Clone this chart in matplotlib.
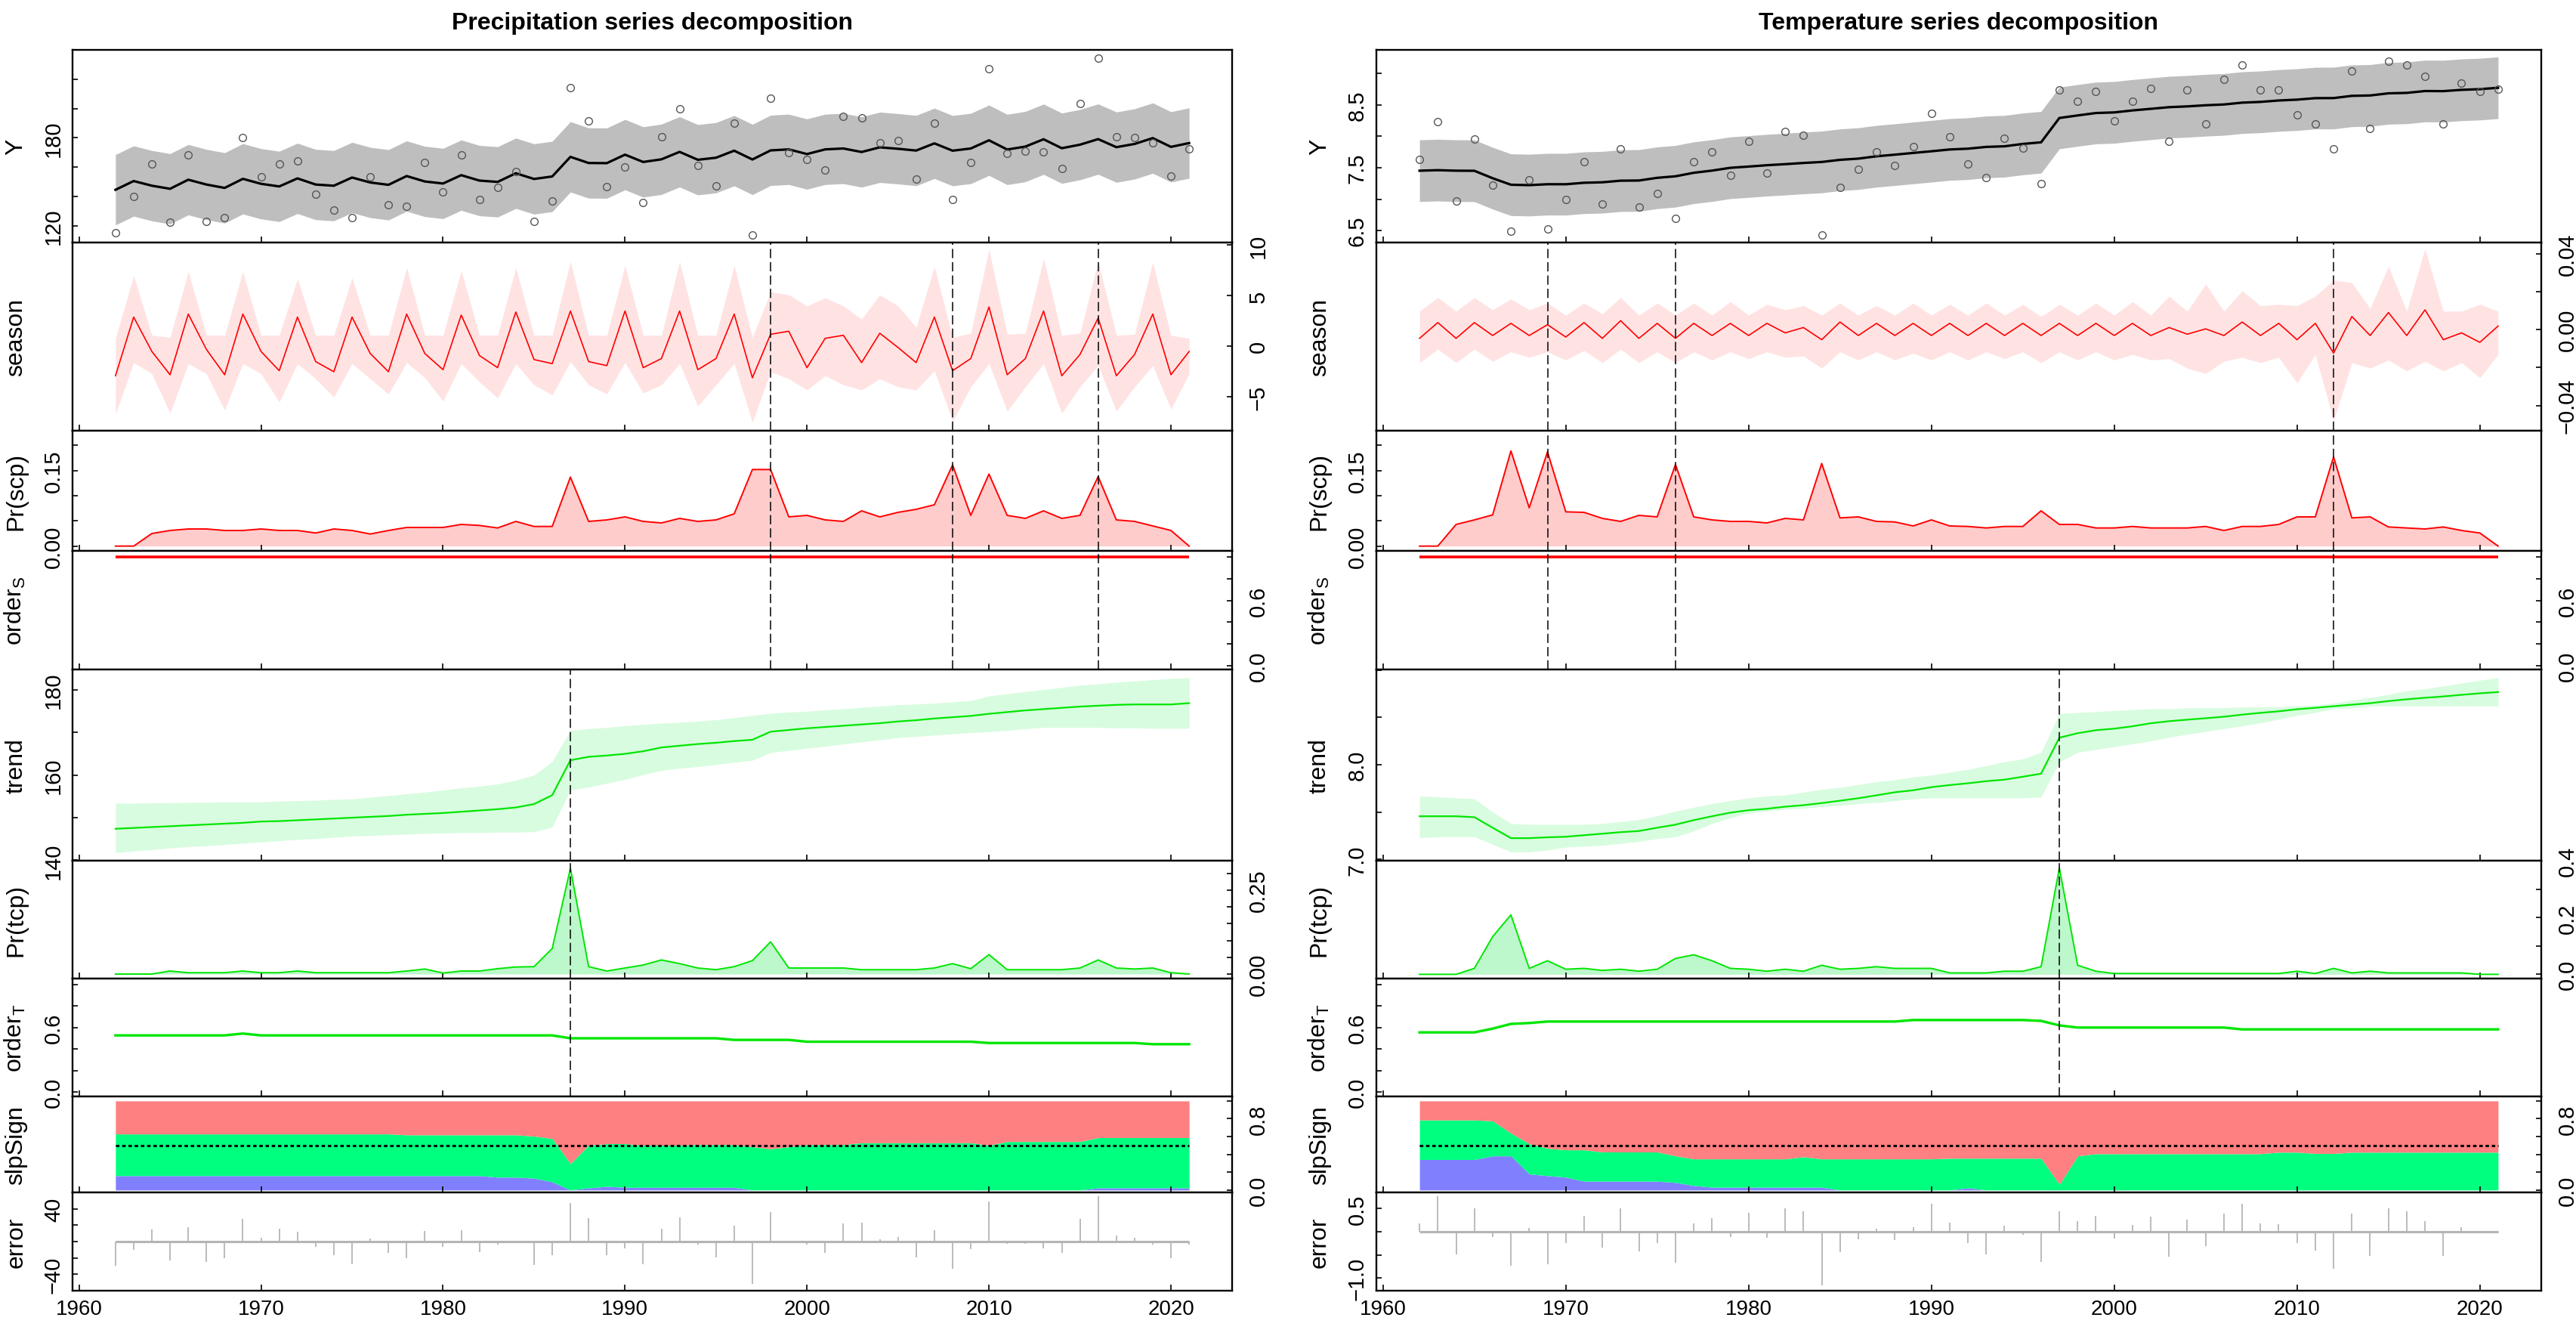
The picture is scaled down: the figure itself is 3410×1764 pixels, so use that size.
# BEAST-style decomposition of precipitation and temperature series
import numpy as np
import matplotlib.pyplot as plt

plt.rcParams['font.family'] = ['Liberation Sans', 'DejaVu Sans']
plt.rcParams['mathtext.default'] = 'regular'

# === Data ===
years = np.arange(1962, 2022)

# --- precipitation ---
prcp_y = [115.0, 140.0, 162.2, 122.4, 168.5, 123.1, 125.4, 180.0, 153.3, 162.2,
          164.3, 141.3, 130.9, 125.4, 153.3, 134.4, 133.5, 163.1, 142.8, 168.5,
          138.0, 146.3, 156.9, 123.1, 137.0, 214.4, 191.3, 146.5, 160.2, 135.7,
          180.9, 200.0, 161.1, 147.4, 190.2, 113.9, 207.2, 169.8, 165.2, 158.0,
          194.4, 193.5, 176.5, 178.1, 151.9, 190.2, 138.0, 163.3, 227.0, 169.1,
          170.9, 170.4, 158.9, 203.3, 234.4, 180.9, 180.2, 176.5, 153.7, 172.6]
prcp_y_halfwidth = 24.0

prcp_season = [-2.9, 2.9, -0.5, -2.8, 3.2, -0.3, -2.8, 3.2, -0.5, -2.4,
               2.9, -1.5, -2.5, 2.9, -0.7, -2.5, 3.2, -0.7, -2.3, 3.1,
               -0.9, -2.1, 3.4, -1.3, -1.7, 3.5, -1.5, -1.9, 3.5, -2.1,
               -1.2, 3.5, -2.3, -1.2, 3.2, -3.1, 1.2, 1.5, -2.1, 0.8,
               1.1, -1.6, 1.3, -0.1, -1.6, 2.9, -2.4, -1.2, 3.9, -2.8,
               -1.2, 3.5, -2.9, -0.8, 2.8, -2.9, -0.8, 3.2, -2.8, -0.5]
prcp_season_lo = [-6.7, -1.6, -2.7, -6.6, -1.7, -2.7, -6.3, -1.7, -2.7, -5.5,
                  -1.7, -3.2, -5.0, -1.7, -3.2, -4.7, -1.6, -3.1, -5.4, -1.7,
                  -3.5, -5.1, -1.7, -3.8, -4.8, -1.5, -3.8, -4.7, -1.6, -4.6,
                  -3.8, -1.7, -5.9, -3.8, -1.7, -7.5, -2.5, -3.2, -4.3, -2.9,
                  -3.8, -4.3, -3.2, -4.0, -4.3, -2.4, -7.4, -4.0, -1.7, -6.4,
                  -4.0, -1.7, -6.6, -4.0, -1.9, -6.4, -4.0, -1.9, -6.2, -2.7]
prcp_season_hi = [0.8, 7.0, 1.1, 0.9, 7.4, 1.1, 1.1, 7.4, 1.1, 1.1,
                  6.7, 1.1, 1.1, 6.8, 1.1, 1.1, 7.8, 1.1, 1.1, 7.5,
                  1.1, 1.1, 7.8, 1.1, 1.1, 8.4, 1.1, 1.1, 8.0, 1.1,
                  1.1, 8.4, 1.1, 1.1, 8.0, 0.9, 5.4, 5.1, 4.0, 4.8,
                  4.0, 2.7, 5.1, 4.0, 1.9, 7.9, 0.9, 1.3, 9.6, 1.2,
                  1.3, 8.7, 1.1, 1.3, 8.4, 1.1, 1.2, 8.3, 1.1, 0.8]
prcp_scp = [0.0, 0.0, 0.025, 0.031, 0.034, 0.034, 0.031, 0.031, 0.034, 0.031,
            0.031, 0.026, 0.034, 0.031, 0.024, 0.031, 0.037, 0.037, 0.037, 0.043,
            0.041, 0.036, 0.049, 0.039, 0.039, 0.137, 0.049, 0.052, 0.058, 0.049,
            0.046, 0.055, 0.049, 0.052, 0.064, 0.152, 0.152, 0.058, 0.061, 0.052,
            0.049, 0.070, 0.058, 0.067, 0.073, 0.082, 0.161, 0.061, 0.143, 0.061,
            0.055, 0.070, 0.055, 0.061, 0.138, 0.052, 0.049, 0.040, 0.031, 0.0]
prcp_order_s = 1.0
prcp_trend = [147.4, 147.6, 147.8, 148.0, 148.2, 148.4, 148.6, 148.8, 149.1, 149.2,
              149.4, 149.6, 149.8, 150.0, 150.2, 150.4, 150.7, 150.9, 151.1, 151.4,
              151.7, 152.0, 152.4, 153.2, 155.3, 163.5, 164.3, 164.6, 165.0, 165.6,
              166.5, 166.9, 167.3, 167.6, 168.0, 168.3, 170.2, 170.6, 171.0, 171.3,
              171.6, 171.9, 172.2, 172.6, 172.9, 173.3, 173.6, 173.9, 174.4, 174.8,
              175.2, 175.5, 175.8, 176.1, 176.3, 176.5, 176.6, 176.6, 176.6, 176.9]
prcp_trend_lo = [141.8, 142.2, 142.5, 142.9, 143.2, 143.4, 143.7, 144.0, 144.3, 144.6,
                 144.9, 145.1, 145.4, 145.7, 145.8, 146.0, 146.1, 146.3, 146.4, 146.5,
                 146.5, 146.6, 146.6, 146.7, 147.8, 156.5, 157.2, 158.1, 159.0, 160.1,
                 161.1, 161.6, 162.0, 162.5, 163.0, 163.5, 165.3, 165.8, 166.3, 166.8,
                 167.3, 167.8, 168.3, 168.8, 169.1, 169.4, 169.7, 170.0, 170.2, 170.5,
                 170.9, 171.2, 171.2, 171.2, 171.2, 171.1, 171.1, 171.0, 171.0, 171.0]
prcp_trend_hi = [153.4, 153.4, 153.5, 153.5, 153.6, 153.6, 153.7, 153.7, 153.7, 153.9,
                 154.0, 154.1, 154.3, 154.4, 154.8, 155.2, 155.6, 156.0, 156.5, 157.0,
                 157.4, 157.9, 158.8, 160.0, 163.2, 170.5, 170.9, 171.2, 171.6, 171.9,
                 172.2, 172.4, 172.7, 173.0, 173.5, 174.0, 174.5, 174.8, 175.0, 175.3,
                 175.6, 175.9, 176.2, 176.5, 176.7, 176.9, 177.2, 177.5, 178.6, 179.1,
                 179.6, 180.1, 180.6, 181.1, 181.4, 181.8, 182.1, 182.4, 182.7, 182.9]
prcp_tcp = [0.0, 0.0, 0.0, 0.009, 0.004, 0.004, 0.004, 0.009, 0.004, 0.004,
            0.009, 0.004, 0.004, 0.004, 0.004, 0.004, 0.009, 0.015, 0.003, 0.009,
            0.009, 0.016, 0.021, 0.022, 0.076, 0.315, 0.022, 0.009, 0.018, 0.027,
            0.042, 0.031, 0.018, 0.013, 0.022, 0.040, 0.096, 0.018, 0.018, 0.018,
            0.018, 0.013, 0.013, 0.013, 0.013, 0.018, 0.031, 0.016, 0.058, 0.013,
            0.013, 0.013, 0.013, 0.018, 0.042, 0.018, 0.015, 0.018, 0.004, 0.0]
prcp_order_t = [0.527, 0.527, 0.527, 0.527, 0.527, 0.527, 0.527, 0.544, 0.527, 0.527,
                0.527, 0.527, 0.527, 0.527, 0.527, 0.527, 0.527, 0.527, 0.527, 0.527,
                0.527, 0.527, 0.527, 0.527, 0.527, 0.500, 0.500, 0.500, 0.500, 0.500,
                0.500, 0.500, 0.500, 0.500, 0.485, 0.485, 0.485, 0.485, 0.468, 0.468,
                0.468, 0.468, 0.468, 0.468, 0.468, 0.468, 0.468, 0.468, 0.456, 0.456,
                0.456, 0.456, 0.456, 0.456, 0.456, 0.456, 0.456, 0.445, 0.445, 0.445]
prcp_slp_neg = [0.161, 0.161, 0.161, 0.161, 0.161, 0.161, 0.161, 0.161, 0.161, 0.161,
                0.161, 0.161, 0.161, 0.161, 0.161, 0.161, 0.161, 0.161, 0.161, 0.161,
                0.161, 0.144, 0.144, 0.133, 0.092, 0.0, 0.024, 0.041, 0.030, 0.030,
                0.030, 0.030, 0.030, 0.030, 0.030, 0.0, 0.0, 0.0, 0.0, 0.0,
                0.0, 0.0, 0.0, 0.0, 0.0, 0.0, 0.0, 0.0, 0.0, 0.0,
                0.0, 0.0, 0.0, 0.0, 0.024, 0.024, 0.024, 0.024, 0.024, 0.024]
prcp_slp_negzero = [0.629, 0.629, 0.629, 0.629, 0.629, 0.629, 0.629, 0.629, 0.629, 0.629,
                    0.629, 0.629, 0.629, 0.629, 0.629, 0.629, 0.619, 0.619, 0.619, 0.619,
                    0.619, 0.619, 0.619, 0.605, 0.578, 0.297, 0.503, 0.520, 0.520, 0.503,
                    0.503, 0.503, 0.510, 0.510, 0.510, 0.485, 0.462, 0.485, 0.510, 0.510,
                    0.510, 0.530, 0.530, 0.530, 0.530, 0.530, 0.530, 0.530, 0.503, 0.544,
                    0.544, 0.544, 0.544, 0.544, 0.588, 0.588, 0.588, 0.588, 0.588, 0.588]
prcp_scp_years = [1998, 2008, 2016]
prcp_tcp_years = [1987]

# --- temperature ---
temp_y = [7.63, 8.23, 6.97, 7.95, 7.22, 6.49, 7.31, 6.53, 6.99, 7.60,
          6.92, 7.80, 6.87, 7.09, 6.70, 7.60, 7.75, 7.38, 7.92, 7.41,
          8.07, 8.02, 6.43, 7.19, 7.48, 7.75, 7.53, 7.84, 8.36, 7.99,
          7.56, 7.34, 7.97, 7.81, 7.25, 8.73, 8.56, 8.71, 8.24, 8.56,
          8.76, 7.92, 8.73, 8.19, 8.90, 9.13, 8.73, 8.73, 8.34, 8.19,
          7.80, 9.04, 8.12, 9.19, 9.13, 8.95, 8.19, 8.84, 8.71, 8.75]
temp_y_halfwidth = 0.49

temp_season = [-0.0046, 0.0037, -0.0046, 0.0037, -0.0031, 0.0033, -0.0031, 0.0026, -0.0039, 0.0037,
               -0.0046, 0.0047, -0.0046, 0.0033, -0.0046, 0.0033, -0.0031, 0.0033, -0.0031, 0.0033,
               -0.0017, 0.0011, -0.0053, 0.0040, -0.0031, 0.0033, -0.0031, 0.0033, -0.0031, 0.0033,
               -0.0031, 0.0033, -0.0031, 0.0033, -0.0031, 0.0033, -0.0031, 0.0033, -0.0031, 0.0033,
               -0.0031, 0.0011, -0.0024, 0.0004, -0.0031, 0.0040, -0.0031, 0.0033, -0.0053, 0.0033,
               -0.0124, 0.0069, -0.0031, 0.0090, -0.0031, 0.0104, -0.0053, -0.0017, -0.0067, 0.0019]
temp_season_lo = [-0.0174, -0.0103, -0.0174, -0.0103, -0.0167, -0.0117, -0.0146, -0.0117, -0.0160, -0.0110,
                  -0.0174, -0.0103, -0.0174, -0.0117, -0.0174, -0.0117, -0.0160, -0.0117, -0.0153, -0.0117,
                  -0.0146, -0.0139, -0.0203, -0.0117, -0.0160, -0.0117, -0.0160, -0.0124, -0.0160, -0.0117,
                  -0.0160, -0.0117, -0.0153, -0.0117, -0.0174, -0.0117, -0.0160, -0.0117, -0.0160, -0.0131,
                  -0.0160, -0.0153, -0.0203, -0.0231, -0.0167, -0.0146, -0.0174, -0.0146, -0.0281, -0.0131,
                  -0.0480, -0.0174, -0.0203, -0.0160, -0.0217, -0.0167, -0.0217, -0.0174, -0.0253, -0.0131]
temp_season_hi = [0.0097, 0.0169, 0.0097, 0.0169, 0.0104, 0.0161, 0.0104, 0.0140, 0.0076, 0.0140,
                  0.0083, 0.0169, 0.0076, 0.0140, 0.0076, 0.0140, 0.0076, 0.0147, 0.0076, 0.0133,
                  0.0104, 0.0126, 0.0076, 0.0140, 0.0076, 0.0126, 0.0076, 0.0140, 0.0076, 0.0133,
                  0.0076, 0.0140, 0.0076, 0.0133, 0.0069, 0.0133, 0.0076, 0.0140, 0.0076, 0.0147,
                  0.0076, 0.0176, 0.0097, 0.0240, 0.0097, 0.0204, 0.0126, 0.0133, 0.0126, 0.0176,
                  0.0261, 0.0247, 0.0111, 0.0333, 0.0097, 0.0426, 0.0097, 0.0097, 0.0133, 0.0097]
temp_scp = [0.0, 0.0, 0.043, 0.052, 0.062, 0.189, 0.076, 0.187, 0.068, 0.067,
            0.055, 0.049, 0.061, 0.058, 0.162, 0.058, 0.052, 0.049, 0.049, 0.046,
            0.055, 0.052, 0.164, 0.056, 0.058, 0.049, 0.048, 0.040, 0.052, 0.040,
            0.039, 0.036, 0.039, 0.039, 0.070, 0.043, 0.043, 0.036, 0.036, 0.039,
            0.036, 0.036, 0.036, 0.039, 0.031, 0.039, 0.039, 0.043, 0.058, 0.058,
            0.177, 0.056, 0.058, 0.038, 0.036, 0.034, 0.038, 0.031, 0.026, 0.0]
temp_order_s = 1.0
temp_trend = [7.456, 7.456, 7.456, 7.446, 7.335, 7.225, 7.225, 7.234, 7.240, 7.256,
              7.272, 7.288, 7.300, 7.335, 7.367, 7.415, 7.456, 7.494, 7.520, 7.535,
              7.557, 7.573, 7.595, 7.620, 7.646, 7.677, 7.709, 7.730, 7.763, 7.785,
              7.804, 7.826, 7.842, 7.873, 7.905, 8.285, 8.332, 8.364, 8.380, 8.405,
              8.437, 8.459, 8.475, 8.490, 8.506, 8.528, 8.547, 8.563, 8.585, 8.600,
              8.617, 8.633, 8.649, 8.671, 8.690, 8.706, 8.720, 8.737, 8.753, 8.766]
temp_trend_lo = [7.23, 7.24, 7.24, 7.24, 7.16, 7.08, 7.08, 7.10, 7.13, 7.14,
                 7.15, 7.17, 7.19, 7.22, 7.24, 7.30, 7.38, 7.44, 7.49, 7.51,
                 7.53, 7.54, 7.56, 7.57, 7.59, 7.60, 7.62, 7.64, 7.65, 7.65,
                 7.65, 7.65, 7.65, 7.65, 7.66, 8.03, 8.13, 8.16, 8.19, 8.22,
                 8.25, 8.29, 8.32, 8.35, 8.38, 8.41, 8.44, 8.48, 8.52, 8.55,
                 8.59, 8.60, 8.62, 8.62, 8.62, 8.62, 8.62, 8.62, 8.62, 8.62]
temp_trend_hi = [7.67, 7.66, 7.65, 7.64, 7.50, 7.38, 7.37, 7.37, 7.37, 7.37,
                 7.38, 7.40, 7.42, 7.46, 7.51, 7.55, 7.59, 7.62, 7.65, 7.67,
                 7.68, 7.71, 7.74, 7.76, 7.79, 7.82, 7.84, 7.87, 7.89, 7.92,
                 7.95, 7.99, 8.03, 8.06, 8.13, 8.54, 8.55, 8.56, 8.57, 8.58,
                 8.59, 8.59, 8.60, 8.60, 8.60, 8.61, 8.61, 8.61, 8.62, 8.63,
                 8.65, 8.68, 8.71, 8.74, 8.78, 8.80, 8.83, 8.86, 8.89, 8.92]
temp_tcp = [0.0, 0.0, 0.0, 0.021, 0.133, 0.210, 0.021, 0.048, 0.018, 0.021,
            0.014, 0.018, 0.011, 0.018, 0.056, 0.069, 0.048, 0.021, 0.018, 0.011,
            0.018, 0.011, 0.032, 0.018, 0.021, 0.027, 0.021, 0.021, 0.021, 0.005,
            0.005, 0.005, 0.011, 0.011, 0.027, 0.375, 0.032, 0.011, 0.003, 0.003,
            0.003, 0.003, 0.003, 0.003, 0.003, 0.003, 0.003, 0.003, 0.011, 0.003,
            0.021, 0.005, 0.011, 0.005, 0.005, 0.005, 0.005, 0.005, 0.0, 0.0]
temp_order_t = [0.555, 0.555, 0.555, 0.555, 0.590, 0.634, 0.642, 0.656, 0.656, 0.656,
                0.656, 0.656, 0.656, 0.656, 0.656, 0.656, 0.656, 0.656, 0.656, 0.656,
                0.656, 0.656, 0.656, 0.656, 0.656, 0.656, 0.656, 0.670, 0.670, 0.670,
                0.670, 0.670, 0.670, 0.670, 0.662, 0.620, 0.600, 0.600, 0.600, 0.600,
                0.600, 0.600, 0.600, 0.600, 0.600, 0.583, 0.583, 0.583, 0.583, 0.583,
                0.583, 0.583, 0.583, 0.583, 0.583, 0.583, 0.583, 0.583, 0.583, 0.583]
temp_slp_neg = [0.342, 0.342, 0.342, 0.342, 0.383, 0.383, 0.180, 0.161, 0.144, 0.099,
                0.099, 0.099, 0.099, 0.099, 0.085, 0.051, 0.031, 0.031, 0.031, 0.031,
                0.031, 0.031, 0.031, 0.0, 0.0, 0.0, 0.0, 0.0, 0.0, 0.0,
                0.024, 0.0, 0.0, 0.0, 0.0, 0.0, 0.0, 0.0, 0.0, 0.0,
                0.0, 0.0, 0.0, 0.0, 0.0, 0.0, 0.0, 0.0, 0.0, 0.0,
                0.0, 0.0, 0.0, 0.0, 0.0, 0.0, 0.0, 0.0, 0.0, 0.0]
temp_slp_negzero = [0.786, 0.786, 0.786, 0.786, 0.776, 0.639, 0.520, 0.468, 0.451, 0.451,
                    0.427, 0.427, 0.427, 0.427, 0.383, 0.349, 0.349, 0.349, 0.349, 0.349,
                    0.349, 0.373, 0.349, 0.349, 0.349, 0.349, 0.349, 0.349, 0.349, 0.356,
                    0.356, 0.356, 0.356, 0.356, 0.356, 0.065, 0.383, 0.407, 0.407, 0.407,
                    0.407, 0.407, 0.407, 0.407, 0.407, 0.407, 0.407, 0.424, 0.424, 0.410,
                    0.410, 0.424, 0.424, 0.424, 0.424, 0.424, 0.424, 0.424, 0.424, 0.424]
temp_scp_years = [1969, 1976, 2012]
temp_tcp_years = [1997]

# === Layout (pixels of the 3410 x 1765 canvas) ===
W, H = 3410, 1765
ROWS = [67, 322, 571, 730, 887, 1140, 1296, 1452, 1579, 1709]
XLIM = (1959.64, 2023.36)
XTICKS = [1960, 1970, 1980, 1990, 2000, 2010, 2020]
P01 = [0.0, 0.2, 0.4, 0.6, 0.8, 1.0]

prcp_axes = [
    ('Y', 'left', [120, 140, 160, 180, 200, 220], ['120', '', '', '180', '', ''], (108.5, 240)),
    ('season', 'right', [-5, 0, 5, 10], ['\u22125', '0', '5', '10'], (-8.33, 10.26)),
    ('Pr(scp)', 'left', [0, 0.05, 0.1, 0.15, 0.2], ['0.00', '', '', '0.15', ''], (-0.0095, 0.229)),
    ('order$_S$', 'right', P01, ['0.0', '', '', '0.6', '', ''], (-0.035, 1.055)),
    ('trend', 'left', [140, 150, 160, 170, 180], ['140', '', '160', '', '180'], (139.9, 184.8)),
    ('Pr(tcp)', 'right', [0, 0.05, 0.1, 0.15, 0.2, 0.25, 0.3],
     ['0.00', '', '', '', '', '0.25', ''], (-0.0135, 0.3375)),
    ('order$_T$', 'left', P01, ['0.0', '', '', '0.6', '', ''], (-0.042, 1.056)),
    ('slpSign', 'right', P01, ['0.0', '', '', '', '0.8', ''], (-0.027, 1.05)),
    ('error', 'left', [-40, -20, 0, 20, 40], ['\u221240', '', '', '', '40'], (-60, 60)),
]
temp_axes = [
    ('Y', 'left', [6.5, 7.0, 7.5, 8.0, 8.5, 9.0], ['6.5', '', '7.5', '', '8.5', ''], (6.31, 9.37)),
    ('season', 'right', [-0.04, -0.02, 0, 0.02, 0.04],
     ['\u22120.04', '', '0.00', '', '0.04'], (-0.0532, 0.0458)),
    ('Pr(scp)', 'left', [0, 0.05, 0.1, 0.15, 0.2], ['0.00', '', '', '0.15', ''], (-0.0095, 0.229)),
    ('order$_S$', 'right', P01, ['0.0', '', '', '0.6', '', ''], (-0.035, 1.055)),
    ('trend', 'left', [7.0, 7.5, 8.0, 8.5, 9.0], ['7.0', '', '8.0', '', ''], (6.987, 9.004)),
    ('Pr(tcp)', 'right', [0, 0.1, 0.2, 0.3, 0.4], ['0.0', '', '0.2', '', '0.4'], (-0.015, 0.401)),
    ('order$_T$', 'left', P01, ['0.0', '', '', '0.6', '', ''], (-0.042, 1.056)),
    ('slpSign', 'right', P01, ['0.0', '', '', '', '0.8', ''], (-0.027, 1.05)),
    ('error', 'left', [-1.0, -0.5, 0, 0.5], ['\u22121.0', '', '', '0.5'], (-1.27, 0.85)),
]


def make_axes(fig, x0, x1, i):
    y0, y1 = ROWS[i], ROWS[i + 1]
    return fig.add_axes([x0 / W, 1 - y1 / H, (x1 - x0) / W, (y1 - y0) / H])


def style_axes(ax, cfg, bottom):
    label, side, ticks, ticklabels, ylim = cfg
    ax.set_xlim(XLIM)
    ax.set_ylim(ylim)
    for sp in ax.spines.values():
        sp.set_linewidth(1.7)
    ax.set_xticks(XTICKS)
    ax.tick_params(axis='x', direction='in', length=6, width=1.2,
                   labelbottom=bottom, labelsize=20, pad=8)
    ax.set_yticks(ticks)
    ax.set_yticklabels(ticklabels)
    if side == 'left':
        ax.tick_params(axis='y', direction='in', left=True, right=False,
                       labelleft=True, labelright=False, length=5, width=1.2,
                       labelsize=21, pad=8)
    else:
        ax.tick_params(axis='y', direction='in', left=False, right=True,
                       labelleft=False, labelright=True, length=5, width=1.2,
                       labelsize=21, pad=15)
    for t in ax.get_yticklabels(which='both'):
        t.set_rotation(90)
        t.set_va('center')
    ax.yaxis.set_label_position('left')
    ax.set_ylabel(label, fontsize=23)
    ax.yaxis.set_label_coords(-0.039, 0.5)


def draw_column(fig, x0, x1, title, cfgs, y, y_hw, season, season_lo, season_hi,
                scp, order_s, trend, trend_lo, trend_hi, tcp, order_t,
                slp_neg, slp_negzero, scp_years, tcp_years):
    axs = [make_axes(fig, x0, x1, i) for i in range(9)]
    fit = np.array(trend) + np.array(season)
    err = np.array(y) - fit

    ax = axs[0]
    ax.fill_between(years, fit - y_hw, fit + y_hw, color='#BEBEBE', lw=0)
    ax.plot(years, fit, color='black', lw=2.3)
    ax.plot(years, y, 'o', mfc='none', mec='#555555', ms=7, mew=1.0)
    ax.set_title(title, fontsize=23, fontweight='bold', pad=20)

    ax = axs[1]
    ax.fill_between(years, season_lo, season_hi, color='#FFE3E3', lw=0)
    ax.plot(years, season, color='red', lw=1.2)

    ax = axs[2]
    ax.fill_between(years, 0, scp, color='#FFCCCC', lw=0)
    ax.plot(years, scp, color='red', lw=1.4)

    ax = axs[3]
    ax.hlines(order_s, years[0], years[-1], colors='red', lw=2.6)

    ax = axs[4]
    ax.fill_between(years, trend_lo, trend_hi, color='#D8FCDF', lw=0)
    ax.plot(years, trend, color='#00E600', lw=1.6)

    ax = axs[5]
    ax.fill_between(years, 0, tcp, color='#BDF7CC', lw=0)
    ax.plot(years, tcp, color='#00E600', lw=1.4)

    ax = axs[6]
    ax.plot(years, order_t, color='#00E600', lw=2.4)

    ax = axs[7]
    ax.fill_between(years, 0, slp_neg, color='#8080FF', lw=0)
    ax.fill_between(years, slp_neg, slp_negzero, color='#00FF7F', lw=0)
    ax.fill_between(years, slp_negzero, 1.0, color='#FF8080', lw=0)
    ax.hlines(0.5, years[0], years[-1], colors='black', lw=2.2,
              linestyles=(0, (1.5, 1.2)))

    ax = axs[8]
    ax.vlines(years, 0, err, colors='#A8A8A8', lw=1.1)
    ax.hlines(0, years[0], years[-1], colors='#B4B4B4', lw=2.2)

    for i in (1, 2, 3):
        for yr in scp_years:
            axs[i].axvline(yr, color='black', lw=1.1, ls=(0, (8, 3.5)))
    for i in (4, 5, 6):
        for yr in tcp_years:
            axs[i].axvline(yr, color='black', lw=1.1, ls=(0, (8, 3.5)))

    for i, ax in enumerate(axs):
        style_axes(ax, cfgs[i], bottom=(i == 8))
    return axs


fig = plt.figure(figsize=(W / 100, H / 100), dpi=100)

draw_column(fig, 96, 1631, 'Precipitation series decomposition', prcp_axes,
            prcp_y, prcp_y_halfwidth, prcp_season, prcp_season_lo, prcp_season_hi,
            prcp_scp, prcp_order_s, prcp_trend, prcp_trend_lo, prcp_trend_hi,
            prcp_tcp, prcp_order_t, prcp_slp_neg, prcp_slp_negzero,
            prcp_scp_years, prcp_tcp_years)

draw_column(fig, 1822, 3364, 'Temperature series decomposition', temp_axes,
            temp_y, temp_y_halfwidth, temp_season, temp_season_lo, temp_season_hi,
            temp_scp, temp_order_s, temp_trend, temp_trend_lo, temp_trend_hi,
            temp_tcp, temp_order_t, temp_slp_neg, temp_slp_negzero,
            temp_scp_years, temp_tcp_years)

fig.savefig('out.png', dpi=100)
